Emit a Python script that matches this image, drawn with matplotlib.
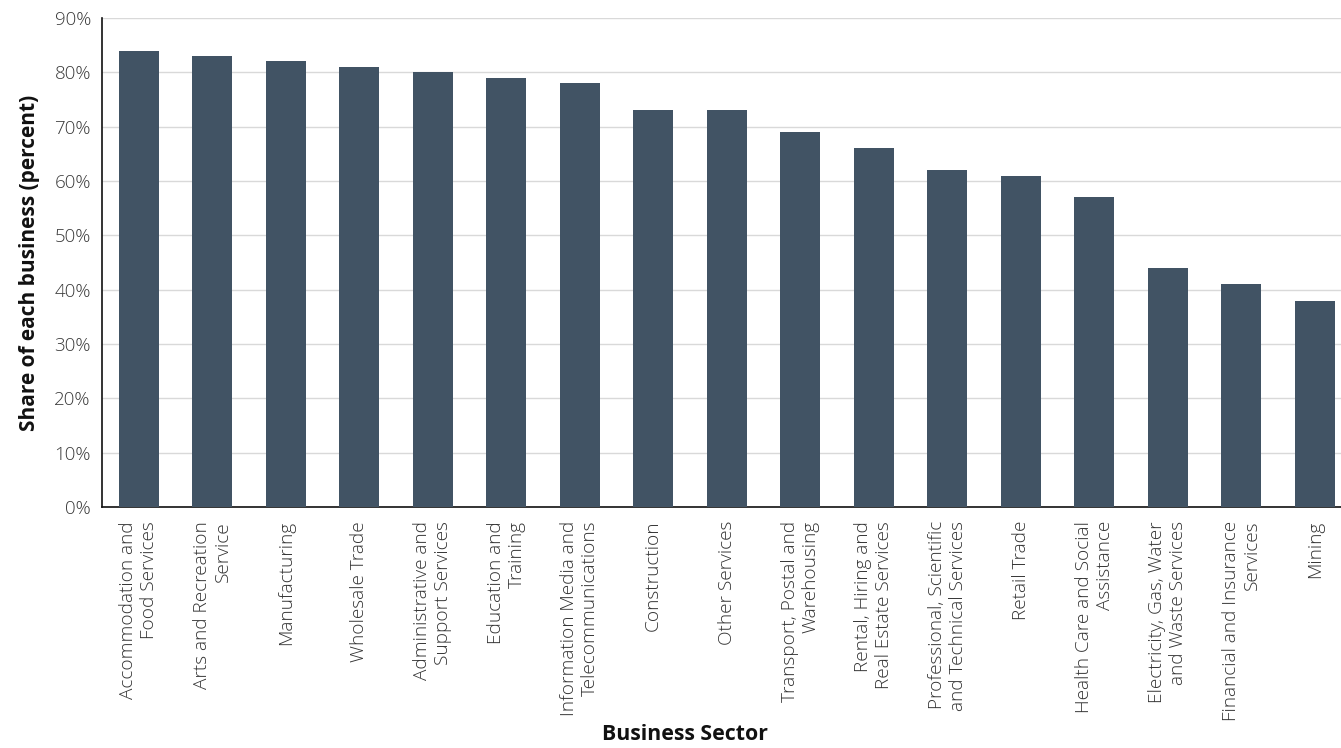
import matplotlib
matplotlib.use("Agg")
import matplotlib.pyplot as plt
from matplotlib.ticker import PercentFormatter

categories = [
    "Accommodation and\nFood Services",
    "Arts and Recreation\nService",
    "Manufacturing",
    "Wholesale Trade",
    "Administrative and\nSupport Services",
    "Education and\nTraining",
    "Information Media and\nTelecommunications",
    "Construction",
    "Other Services",
    "Transport, Postal and\nWarehousing",
    "Rental, Hiring and\nReal Estate Services",
    "Professional, Scientific\nand Technical Services",
    "Retail Trade",
    "Health Care and Social\nAssistance",
    "Electricity, Gas, Water\nand Waste Services",
    "Financial and Insurance\nServices",
    "Mining",
]
values = [84, 83, 82, 81, 80, 79, 78, 73, 73, 69, 66, 62, 61, 57, 44, 41, 38]

plt.rcParams['font.family'] = ['Open Sans', 'DejaVu Sans']

fig = plt.figure(figsize=(13.41, 7.48), dpi=100)
ax = fig.add_axes([102/1341, 1 - 507/748, 1249.5/1341, (507 - 18)/748])

x = list(range(len(categories)))
ax.bar(x, values, width=0.545, color='#415364', zorder=3)

ax.set_xlim(-0.5, len(categories) - 0.5)
ax.set_ylim(0, 90)
ax.set_yticks(range(0, 91, 10))
ax.yaxis.set_major_formatter(PercentFormatter(decimals=0))
ax.grid(axis='y', color='#d9d9d9', linewidth=1, zorder=0)
ax.set_axisbelow(True)

ax.set_xticks(x)
ax.set_xticklabels(categories, rotation=90, ha='center', va='top',
                   multialignment='right', fontsize=13.7, color='#333333',
                   fontweight='light')
ax.tick_params(axis='x', length=0, pad=10)
ax.tick_params(axis='y', length=0, pad=8, labelsize=13.5, labelcolor='#3a3a3a')
for t in ax.get_yticklabels():
    t.set_fontweight('light')

for s in ['top', 'right']:
    ax.spines[s].set_visible(False)
ax.spines['left'].set_color('#111111')
ax.spines['bottom'].set_color('#111111')
ax.spines['left'].set_linewidth(1.2)
ax.spines['bottom'].set_linewidth(1.2)

ax.set_ylabel("Share of each business (percent)", fontsize=15, fontweight='bold',
              color='#111111', labelpad=10)
fig.text(685/1341, 1 - 735/748, "Business Sector", ha='center', va='center',
         fontsize=15.3, fontweight='bold', color='#111111')

fig.savefig("out.png", dpi=100)
